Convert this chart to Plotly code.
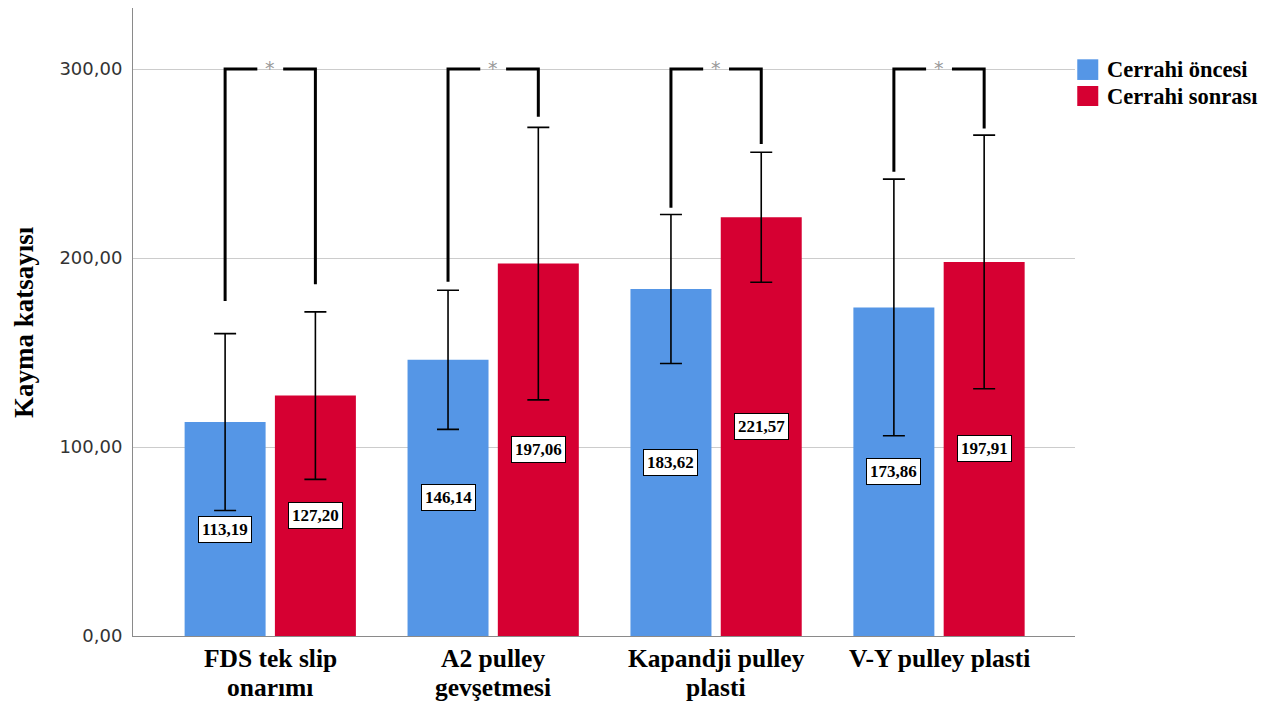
import plotly.graph_objects as go

# ---- data ----
categories = ["FDS tek slip onarımı", "A2 pulley gevşetmesi", "Kapandji pulley plasti", "V-Y pulley plasti"]
tick_labels = ["FDS tek slip<br>onarımı", "A2 pulley<br>gevşetmesi", "Kapandji pulley<br>plasti", "V-Y pulley plasti"]
series_names = ["Cerrahi öncesi", "Cerrahi sonrası"]
pre_mean = [113.19, 146.14, 183.62, 173.86]
post_mean = [127.20, 197.06, 221.57, 197.91]
pre_sd = [46.8, 36.8, 39.4, 67.9]
post_sd = [44.3, 72.1, 34.4, 67.1]
sig_level = [300, 300, 300, 300]
bracket_pre_end = [177.2, 187.5, 226.6, 245.7]
bracket_post_end = [186.1, 274.8, 260.3, 268.6]
sig_marks = ["*", "*", "*", "*"]
y_ticks = [0, 100, 200, 300]
y_tick_labels = ["0,00", "100,00", "200,00", "300,00"]
y_title = "Kayma katsayısı"

# ---- style ----
BLUE = "#5596E6"
RED = "#D60032"
SERIF = "Liberation Serif"
SANS = "DejaVu Sans"
bargap = 0.19
bargroupgap = 0.103
offset = (1 - bargap) / 4

fig = go.Figure()
for name, means, sds, color in [(series_names[0], pre_mean, pre_sd, BLUE),
                                (series_names[1], post_mean, post_sd, RED)]:
    fig.add_trace(go.Bar(
        x=categories, y=means, name=name, marker=dict(color=color, line=dict(width=0)),
        error_y=dict(type="data", array=sds, visible=True, color="black", thickness=1.6, width=11),
        showlegend=False,
    ))

def fmt(v):
    return f"{v:.2f}".replace(".", ",")

annotations = []
shapes = []
for i, cat in enumerate(categories):
    # value labels at half height
    for means, sgn in [(pre_mean, -1), (post_mean, 1)]:
        annotations.append(dict(
            x=i + sgn * offset, y=means[i] / 2, xref="x", yref="y", text=fmt(means[i]),
            showarrow=False, bgcolor="white", bordercolor="black", borderwidth=1, borderpad=3,
            font=dict(family=SERIF, size=17, color="black", weight="bold"),
        ))
    # significance brackets
    xl = i - offset
    xr = i + offset
    gap = 0.058
    shapes.append(dict(type="path", xref="x", yref="y",
                       path=f"M {xl},{bracket_pre_end[i]} L {xl},{sig_level[i]} L {i - gap},{sig_level[i]}",
                       line=dict(color="black", width=3)))
    shapes.append(dict(type="path", xref="x", yref="y",
                       path=f"M {xr},{bracket_post_end[i]} L {xr},{sig_level[i]} L {i + gap},{sig_level[i]}",
                       line=dict(color="black", width=3)))
    annotations.append(dict(x=i, y=sig_level[i], xref="x", yref="y", text=sig_marks[i],
                            showarrow=False, yshift=1,
                            font=dict(family=SANS, size=19, color="#9a9a9a")))
    # category labels (tight line spacing)
    for k, line in enumerate(tick_labels[i].split("<br>")):
        annotations.append(dict(x=i, y=0, xref="x", yref="paper", text=line, showarrow=False,
                                yanchor="middle", yshift=-22.5 - 28.5 * k, borderpad=0,
                                font=dict(family=SERIF, size=25.5, color="black", weight="bold")))

# y-axis title
annotations.append(dict(x=0, y=0.5, xref="paper", yref="paper", text=y_title, showarrow=False,
                        textangle=-90, xshift=-109, xanchor="center", yanchor="middle",
                        font=dict(family=SERIF, size=27, color="black", weight="bold")))

# manual legend
legend_rows = [(series_names[0], BLUE, 0.9183, 0.8854), (series_names[1], RED, 0.8758, 0.8439)]
for name, color, y1, y0 in legend_rows:
    shapes.append(dict(type="rect", xref="paper", yref="paper", x0=1.0024, x1=1.0247, y0=y0, y1=y1,
                       fillcolor=color, line=dict(width=0)))
    annotations.append(dict(x=1.0318, y=(y0 + y1) / 2, xref="paper", yref="paper", text=name,
                            showarrow=False, xanchor="left", yanchor="middle",
                            font=dict(family=SERIF, size=22.5, color="black", weight="bold")))

fig.update_layout(
    width=1269, height=696,
    margin=dict(l=125, r=202, t=0, b=68),
    paper_bgcolor="white", plot_bgcolor="white",
    barmode="group", bargap=bargap, bargroupgap=bargroupgap,
    showlegend=False,
    annotations=annotations, shapes=shapes,
    xaxis=dict(type="category", categoryorder="array", categoryarray=categories,
               range=[-0.6157, 3.61], showticklabels=False, ticks="",
               showline=True, linecolor="#8a8a8a", linewidth=1, showgrid=False, zeroline=False),
    yaxis=dict(range=[0, 332.3], tickvals=y_ticks, ticktext=y_tick_labels,
               tickfont=dict(family=SANS, size=18, color="#333333"),
               ticks="", ticklabelstandoff=6,
               showline=True, linecolor="#8a8a8a", linewidth=1,
               showgrid=True, gridcolor="#cccccc", gridwidth=1, zeroline=False),
)

fig.write_html("out.html")
